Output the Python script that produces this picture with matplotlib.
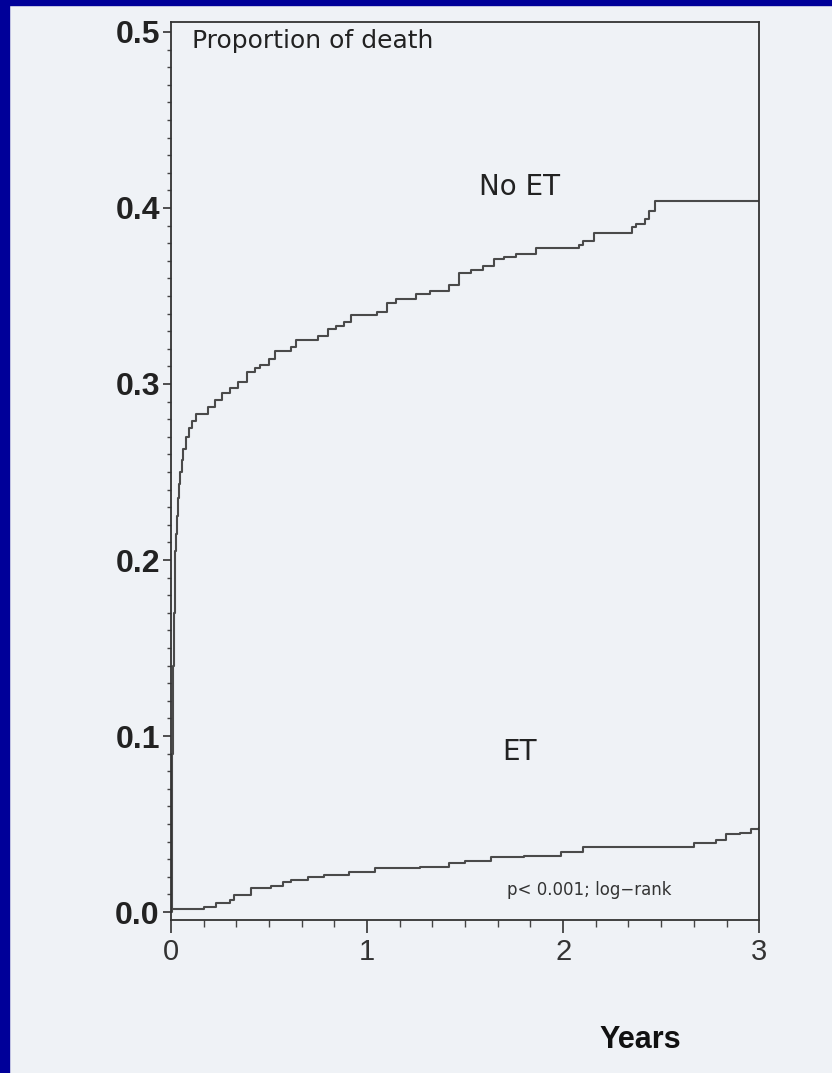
import numpy as np
import matplotlib
matplotlib.use("Agg")
import matplotlib.pyplot as plt
from matplotlib.patches import Rectangle
from matplotlib.ticker import MultipleLocator

plt.rcParams['font.family'] = ['Liberation Sans', 'DejaVu Sans']

# cumulative proportion of death, step points (years, proportion)
t_noet = [0, 0.003, 0.006, 0.010, 0.014, 0.018, 0.022, 0.026, 0.030, 0.035,
          0.040, 0.047, 0.055, 0.063, 0.075, 0.090, 0.106, 0.130, 0.190, 0.225,
          0.260, 0.300, 0.340, 0.390, 0.430, 0.455, 0.500, 0.530, 0.610, 0.640,
          0.750, 0.800, 0.840, 0.880, 0.920, 1.050, 1.100, 1.150, 1.250, 1.320,
          1.420, 1.470, 1.530, 1.590, 1.650, 1.700, 1.760, 1.860, 2.080, 2.100,
          2.160, 2.350, 2.370, 2.420, 2.440, 2.470, 3.000]
p_noet = [0, 0.04, 0.09, 0.14, 0.17, 0.19, 0.205, 0.215, 0.225, 0.235,
          0.243, 0.250, 0.257, 0.263, 0.270, 0.275, 0.279, 0.283, 0.287, 0.291,
          0.295, 0.298, 0.301, 0.3066, 0.309, 0.311, 0.314, 0.319, 0.321, 0.325,
          0.327, 0.331, 0.333, 0.335, 0.339, 0.341, 0.346, 0.348, 0.351, 0.353,
          0.356, 0.363, 0.365, 0.367, 0.371, 0.372, 0.374, 0.377, 0.379, 0.381,
          0.386, 0.389, 0.391, 0.394, 0.398, 0.404, 0.404]

t_et = [0, 0.17, 0.23, 0.30, 0.32, 0.41, 0.51, 0.57, 0.61, 0.70, 0.78, 0.91,
        1.04, 1.27, 1.42, 1.50, 1.63, 1.80, 1.99, 2.10, 2.57, 2.67, 2.78, 2.83,
        2.90, 2.96, 3.00]
p_et = [0.002, 0.003, 0.005, 0.007, 0.0096, 0.0136, 0.015, 0.017, 0.0185, 0.020,
        0.021, 0.023, 0.025, 0.0255, 0.0277, 0.029, 0.031, 0.032, 0.034, 0.0367,
        0.037, 0.039, 0.0407, 0.0446, 0.0452, 0.047, 0.048]

yticks = [0.0, 0.1, 0.2, 0.3, 0.4, 0.5]
xticks = [0, 1, 2, 3]

bg = '#eff2f6'
line_col = '#4a4a4a'

fig = plt.figure(figsize=(8.32, 10.73), dpi=100, facecolor=bg)
ax = fig.add_axes([0.2055, 0.1426, 0.707, 0.837])
ax.set_facecolor(bg)

ax.step(t_noet, p_noet, where='post', color=line_col, lw=1.5)
ax.step(t_et, p_et, where='post', color=line_col, lw=1.5)

ax.set_xlim(0, 3)
ax.set_ylim(-0.0045, 0.5057)

ax.set_yticks(yticks)
ax.set_yticklabels([f'{v:.1f}' for v in yticks], fontsize=23, fontweight='bold', color='#222')
ax.set_xticks(xticks)
ax.set_xticklabels([str(v) for v in xticks], fontsize=21, color='#333')
ax.yaxis.set_minor_locator(MultipleLocator(0.01))
ax.xaxis.set_minor_locator(MultipleLocator(1 / 6))
ax.tick_params(axis='y', which='major', length=6, width=1.2, pad=2, color='#333')
ax.tick_params(axis='y', which='minor', length=3, width=1.0, color='#444')
ax.tick_params(axis='x', which='major', length=9, width=1.2, pad=4, color='#333')
ax.tick_params(axis='x', which='minor', length=5, width=1.0, color='#444')
for s in ax.spines.values():
    s.set_color('#333')
    s.set_linewidth(1.3)

lbl_font = ['DejaVu Sans']
ax.text(0.036, 0.992, 'Proportion of death', transform=ax.transAxes, family=lbl_font,
        fontsize=18, va='top', ha='left', color='#222')
ax.text(1.78, 0.412, 'No ET', family=lbl_font, fontsize=20, ha='center', va='center', color='#222')
ax.text(1.78, 0.091, 'ET', family=lbl_font, fontsize=20, ha='center', va='center', color='#222')
ax.text(1.715, 0.0125, 'p< 0.001; log\u2212rank', family=lbl_font, fontsize=12,
        ha='left', va='center', color='#333')

fig.text(640 / 832, 1 - 1040 / 1073, 'Years', fontsize=22, fontweight='bold',
         ha='center', va='center', color='#111')

# dark blue frame strips on the left and top edges
fig.patches.append(Rectangle((0, 0), 9 / 832, 1, transform=fig.transFigure,
                             color='#000099', zorder=10))
fig.patches.append(Rectangle((0, 1 - 5 / 1073), 1, 5 / 1073, transform=fig.transFigure,
                             color='#000099', zorder=10))

fig.savefig('out.png', dpi=100, facecolor=bg)
